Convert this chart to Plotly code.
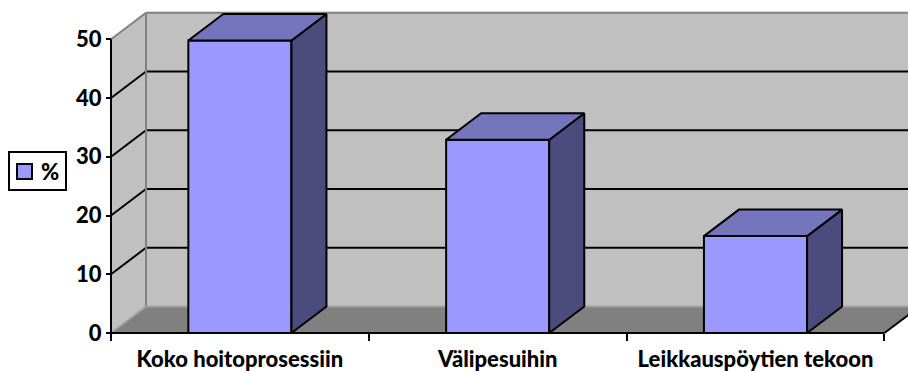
import plotly.graph_objects as go

# --- data ---
categories = ["Koko hoitoprosessiin", "Välipesuihin", "Leikkauspöytien tekoon"]
values = [49.8, 32.9, 16.5]
y_ticks = [0, 10, 20, 30, 40, 50]
series_name = "%"

# --- page geometry (pixels) ---
W, H = 908, 371
X0_PX = 111.0      # pixel column of the front-left corner (x = -0.5)
CAT_PX = 257.8     # pixels per category
Y0_PX = 333.0      # pixel row of value 0 on the front plane
UNIT_PX = 5.874    # pixels per value unit
DEPTH_X_PX, DEPTH_Y_PX = 35.0, 26.5

x_range = [-0.5 - X0_PX / CAT_PX, -0.5 + (W - X0_PX) / CAT_PX]
y_range = [-(H - Y0_PX) / UNIT_PX, Y0_PX / UNIT_PX]
DX = DEPTH_X_PX / CAT_PX
DY = DEPTH_Y_PX / UNIT_PX

n = len(categories)
x_left, x_right = -0.5, n - 0.5
y_top = max(y_ticks)
half_w = 0.2

FRONT = "#9999FF"
TOP = "#7575BD"
SIDE = "#4B4B7E"
WALL = "#C0C0C0"
FLOOR = "#808080"
EDGE = "#808080"
FONT = "Lato"
LABEL_FONT = dict(family=FONT, size=22, color="black", weight=900)


def poly(points):
    return "M" + " L".join(f"{x},{y}" for x, y in points) + " Z"


def px_x(p):
    return p / W


def px_y(p):
    return 1 - p / H


shapes = []
# back wall
shapes.append(dict(type="path", layer="below", line=dict(width=0), fillcolor=WALL,
                   path=poly([(x_left + DX, DY), (x_right + DX, DY),
                              (x_right + DX, y_top + DY), (x_left + DX, y_top + DY)])))
# left side wall
shapes.append(dict(type="path", layer="below", line=dict(width=0), fillcolor=WALL,
                   path=poly([(x_left, 0), (x_left + DX, DY),
                              (x_left + DX, y_top + DY), (x_left, y_top)])))
# floor
shapes.append(dict(type="path", layer="below", line=dict(width=0), fillcolor=FLOOR,
                   path=poly([(x_left, 0), (x_right, 0),
                              (x_right + DX, DY), (x_left + DX, DY)])))
# gridlines on back and side walls
for t in y_ticks[1:-1]:
    shapes.append(dict(type="line", layer="below", line=dict(color="black", width=2),
                       x0=x_left + DX, x1=x_right + DX, y0=t + DY, y1=t + DY))
    shapes.append(dict(type="line", layer="below", line=dict(color="black", width=2),
                       x0=x_left, x1=x_left + DX, y0=t, y1=t + DY))
# wall edges
edge_lines = [
    ((x_left + DX, y_top + DY), (x_right + DX, y_top + DY), EDGE),
    ((x_left, y_top), (x_left + DX, y_top + DY), EDGE),
    ((x_left + DX, DY), (x_left + DX, y_top + DY), EDGE),
    ((x_left + DX, DY), (x_right + DX, DY), "#A0A0A0"),
    ((x_left, 0), (x_left + DX, DY), "#A0A0A0"),
    ((x_right, 0), (x_right + DX, DY), "black"),
]
for (xa, ya), (xb, yb), c in edge_lines:
    shapes.append(dict(type="line", layer="below", line=dict(color=c, width=2),
                       x0=xa, y0=ya, x1=xb, y1=yb))
# front axis lines
shapes.append(dict(type="line", layer="above", line=dict(color="black", width=2),
                   x0=x_left, x1=x_left, y0=0, y1=y_top))
shapes.append(dict(type="line", layer="above", line=dict(color="black", width=2),
                   x0=x_left, x1=x_right, y0=0, y1=0))

# legend box with a swatch of the series colour
shapes.append(dict(type="rect", xref="paper", yref="paper", layer="above",
                   x0=px_x(9), x1=px_x(66), y0=px_y(190), y1=px_y(152),
                   line=dict(color="black", width=2), fillcolor="white"))
shapes.append(dict(type="rect", xref="paper", yref="paper", layer="above",
                   x0=px_x(17), x1=px_x(32), y0=px_y(179), y1=px_y(164),
                   line=dict(color="black", width=2), fillcolor=FRONT))
annotations = [dict(text=series_name, xref="paper", yref="paper",
                    x=px_x(39), y=px_y(171.5), xanchor="left", yanchor="middle",
                    showarrow=False, font=LABEL_FONT)]

fig = go.Figure()

# front faces of the columns
fig.add_trace(go.Bar(
    x=list(range(n)), y=values, width=2 * half_w, name=series_name,
    marker=dict(color=FRONT, line=dict(color="black", width=2)),
    hoverinfo="skip", showlegend=False,
))

# top and side faces, built from the same values
top_x, top_y, side_x, side_y = [], [], [], []
for i, v in enumerate(values):
    xl, xr = i - half_w, i + half_w
    top_x += [xl, xr, xr + DX, xl + DX, xl, None]
    top_y += [v, v, v + DY, v + DY, v, None]
    side_x += [xr, xr + DX, xr + DX, xr, xr, None]
    side_y += [0, DY, v + DY, v, 0, None]

fig.add_trace(go.Scatter(x=side_x, y=side_y, mode="lines", fill="toself",
                         fillcolor=SIDE, line=dict(color="black", width=2),
                         showlegend=False, hoverinfo="skip"))
fig.add_trace(go.Scatter(x=top_x, y=top_y, mode="lines", fill="toself",
                         fillcolor=TOP, line=dict(color="black", width=2),
                         showlegend=False, hoverinfo="skip"))

fig.update_layout(
    width=W, height=H,
    margin=dict(l=0, r=0, t=0, b=0),
    paper_bgcolor="white", plot_bgcolor="white",
    shapes=shapes,
    annotations=annotations,
    showlegend=False,
    xaxis=dict(range=x_range, anchor="free", position=(H - Y0_PX) / H,
               showgrid=False, zeroline=False, showline=False, automargin=False,
               tickmode="array", tickvals=list(range(n)), ticktext=categories,
               ticks="", ticklabelstandoff=11,
               tickfont=LABEL_FONT,
               minor=dict(tickmode="array", tickvals=[i - 0.5 for i in range(n + 1)],
                          ticks="outside", ticklen=7, tickwidth=2, tickcolor="black",
                          showgrid=False)),
    yaxis=dict(range=y_range, anchor="free", position=X0_PX / W,
               showgrid=False, zeroline=False, showline=False, automargin=False,
               tickmode="array", tickvals=y_ticks, ticks="outside",
               ticklen=5, tickwidth=2, tickcolor="black",
               tickfont=LABEL_FONT),
)

fig.write_html("out.html")
